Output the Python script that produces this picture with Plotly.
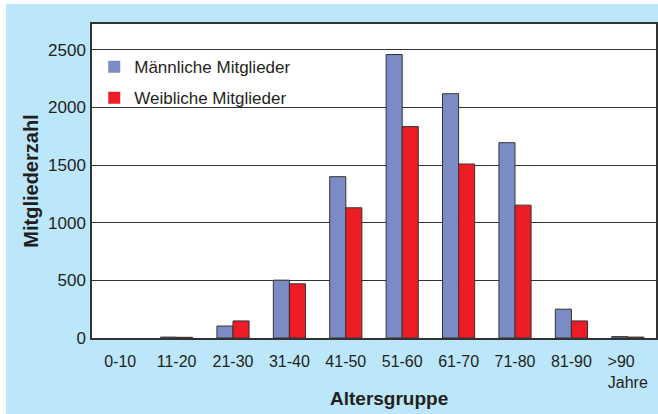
import plotly.graph_objects as go

categories = ["0-10", "11-20", "21-30", "31-40", "41-50", "51-60", "61-70", "71-80", "81-90", ">90"]
tick_labels = ["0-10", "11-20", "21-30", "31-40", "41-50", "51-60", "61-70", "71-80", "81-90",
               ">90&nbsp;&nbsp;&nbsp;<br>Jahre"]
male = [0, 8, 104, 502, 1400, 2460, 2120, 1695, 250, 12]
female = [0, 6, 148, 470, 1130, 1835, 1510, 1153, 148, 8]

BG = "#bce6f9"
FONT = "Liberation Sans, Arial, sans-serif"
TXT = "#231f20"


def outline_widths(values):
    return [0 if v == 0 else 1 for v in values]


fig = go.Figure()
fig.add_trace(go.Bar(x=categories, y=male, name="Männliche Mitglieder", legendgroup="m",
                     marker=dict(color="#7b8bc6",
                                 line=dict(color="#333333", width=outline_widths(male)))))
fig.add_trace(go.Bar(x=categories, y=female, name="Weibliche Mitglieder", legendgroup="f",
                     marker=dict(color="#ee1c25",
                                 line=dict(color="#333333", width=outline_widths(female)))))

fig.update_layout(
    width=652, height=410,
    margin=dict(l=86, r=2, t=20, b=76, autoexpand=False),
    paper_bgcolor=BG, plot_bgcolor="white",
    barmode="group", bargap=0.43, bargroupgap=0,
    font=dict(family=FONT, color=TXT, size=16),
    showlegend=True,
    legend=dict(x=0.004, y=0.92, xanchor="left", yanchor="top",
                bgcolor="rgba(0,0,0,0)", font=dict(size=17, color=TXT),
                tracegroupgap=6, itemwidth=30),
    xaxis=dict(tickvals=categories, ticktext=tick_labels, tickfont=dict(size=16),
               showline=True, linecolor="#333333", linewidth=1.5, mirror=True,
               ticks="", ticklabelstandoff=8, showgrid=False, fixedrange=True,
               automargin=False),
    yaxis=dict(range=[0, 2725], tickvals=[0, 500, 1000, 1500, 2000, 2500],
               tickfont=dict(size=17),
               showline=True, linecolor="#333333", linewidth=1.5, mirror=True,
               showgrid=True, gridcolor="#333333", gridwidth=1,
               ticks="", ticklabelstandoff=1,
               zeroline=False, automargin=False, fixedrange=True,
               title=dict(text="Mitgliederzahl", standoff=4,
                          font=dict(size=20, weight="bold", color=TXT))),
    annotations=[dict(text="Altersgruppe", x=0.5266, y=-0.194, xref="paper", yref="paper",
                      xanchor="center", yanchor="middle", showarrow=False,
                      font=dict(size=19, weight="bold", color=TXT))],
)

fig.write_html("out.html", config={"displayModeBar": False},
               post_script="document.body.style.margin='4px 0 0 6px';"
                           "document.body.style.background='white';"
                           "document.body.style.overflow='hidden';")
